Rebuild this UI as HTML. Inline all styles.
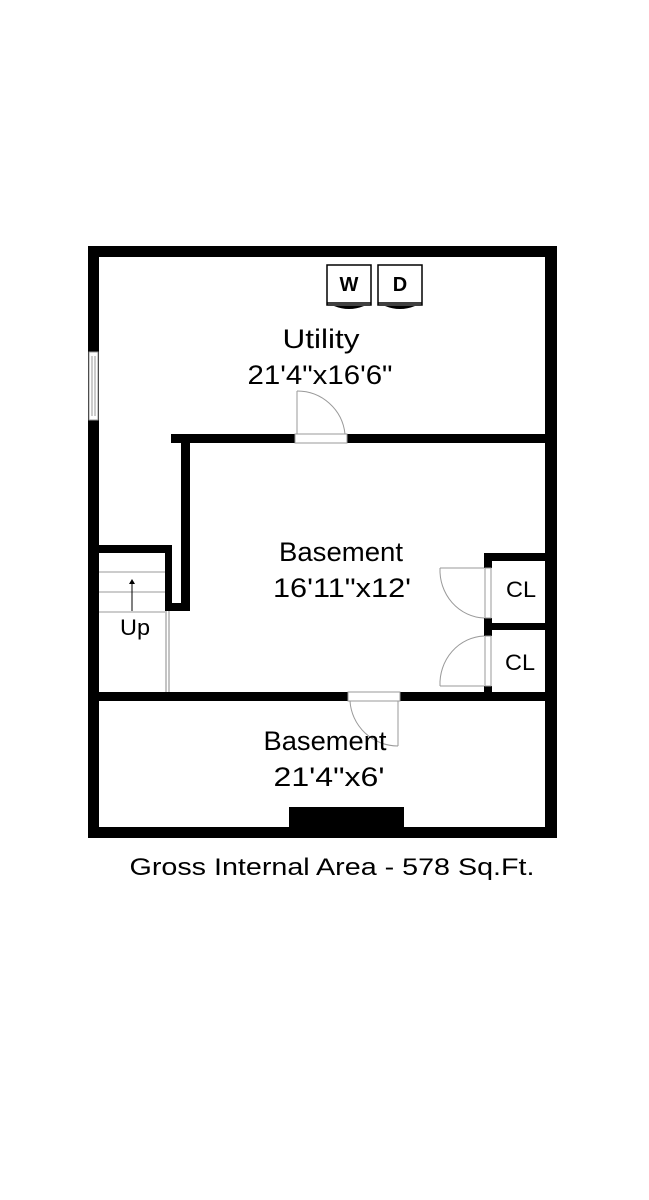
<!DOCTYPE html>
<html><head><meta charset="utf-8"><style>html,body{margin:0;padding:0;background:#fff;}svg{display:block}</style></head>
<body>
<svg width="649" height="1200" viewBox="0 0 649 1200" xmlns="http://www.w3.org/2000/svg" font-family="Liberation Sans, sans-serif">
<rect width="649" height="1200" fill="#fff"/>
<g fill="#000">
<rect x="88" y="246" width="469" height="11"/>
<rect x="88" y="827" width="469" height="11"/>
<rect x="88" y="246" width="11" height="592"/>
<rect x="545" y="246" width="12" height="592"/>
<rect x="171" y="434" width="124" height="9"/>
<rect x="347" y="434" width="198" height="9"/>
<rect x="181" y="434" width="9" height="177"/>
<rect x="165" y="603" width="25" height="8"/>
<rect x="165" y="545" width="7" height="66"/>
<rect x="99" y="545" width="73" height="8"/>
<rect x="99" y="692" width="249" height="9"/>
<rect x="400" y="692" width="145" height="9"/>
<rect x="484" y="553" width="61" height="8"/>
<rect x="484" y="623" width="61" height="7"/>
<rect x="484" y="553" width="8" height="15"/>
<rect x="484" y="618" width="8" height="18"/>
<rect x="484" y="686" width="8" height="6"/>
<rect x="289" y="807" width="115" height="20"/>
</g>
<g fill="none" stroke="#999" stroke-width="1">
<rect x="89" y="352" width="9" height="68" fill="#fff"/>
<line x1="92" y1="356" x2="92" y2="416"/><line x1="95" y1="356" x2="95" y2="416"/>
<rect x="295" y="434" width="52" height="9" fill="#fff"/>
<line x1="297" y1="391" x2="297" y2="434"/>
<path d="M297 391 A48 48 0 0 1 345 434"/>
<rect x="348" y="692" width="52" height="9" fill="#fff"/>
<line x1="398" y1="701" x2="398" y2="746"/>
<path d="M350 701 A48 48 0 0 0 398 746"/>
<rect x="485" y="568" width="6" height="50" fill="#fff"/>
<line x1="440" y1="568" x2="484" y2="568"/>
<path d="M440 568 A46 48 0 0 0 484 618"/>
<rect x="485" y="636" width="6" height="50" fill="#fff"/>
<line x1="440" y1="686" x2="484" y2="686"/>
<path d="M440 686 A46 48 0 0 1 484 636"/>
<line x1="99" y1="572" x2="165" y2="572"/>
<line x1="99" y1="592" x2="165" y2="592"/>
<line x1="99" y1="612" x2="165" y2="612"/>
<line x1="166" y1="611" x2="166" y2="692" stroke="#888"/>
<line x1="169" y1="611" x2="169" y2="692" stroke="#888"/>
</g>
<line x1="132" y1="611" x2="132" y2="583" stroke="#000" stroke-width="1"/>
<path d="M129 584 L132 579 L135 584 Z" fill="#000"/>
<g stroke="#000" fill="none" stroke-width="1.5">
<rect x="327" y="265" width="44" height="40"/>
<rect x="378" y="265" width="44" height="40"/>
<line x1="327" y1="303" x2="371" y2="303"/>
<line x1="378" y1="303" x2="422" y2="303"/>
</g>
<path d="M334 306 Q349 312 364 306 Z M385 306 Q400 312 415 306 Z" fill="#000"/>
<g fill="#000" text-anchor="middle">
<text x="349" y="291" font-size="20" font-weight="bold">W</text>
<text x="400" y="291" font-size="20" font-weight="bold">D</text>
<text x="321" y="348" font-size="27" textLength="77" lengthAdjust="spacingAndGlyphs">Utility</text>
<text x="320" y="384" font-size="27" textLength="145" lengthAdjust="spacingAndGlyphs">21'4"x16'6"</text>
<text x="341" y="561" font-size="27" textLength="124" lengthAdjust="spacingAndGlyphs">Basement</text>
<text x="342" y="597" font-size="27" textLength="138" lengthAdjust="spacingAndGlyphs">16'11"x12'</text>
<text x="135" y="635" font-size="22" textLength="30" lengthAdjust="spacingAndGlyphs">Up</text>
<text x="521" y="597" font-size="22" textLength="30" lengthAdjust="spacingAndGlyphs">CL</text>
<text x="520" y="670" font-size="22" textLength="30" lengthAdjust="spacingAndGlyphs">CL</text>
<text x="325" y="750" font-size="27" textLength="123" lengthAdjust="spacingAndGlyphs">Basement</text>
<text x="329" y="786" font-size="27" textLength="111" lengthAdjust="spacingAndGlyphs">21'4"x6'</text>
<text x="332" y="875" font-size="24" textLength="405" lengthAdjust="spacingAndGlyphs">Gross Internal Area - 578 Sq.Ft.</text>
</g>
</svg>
</body></html>
